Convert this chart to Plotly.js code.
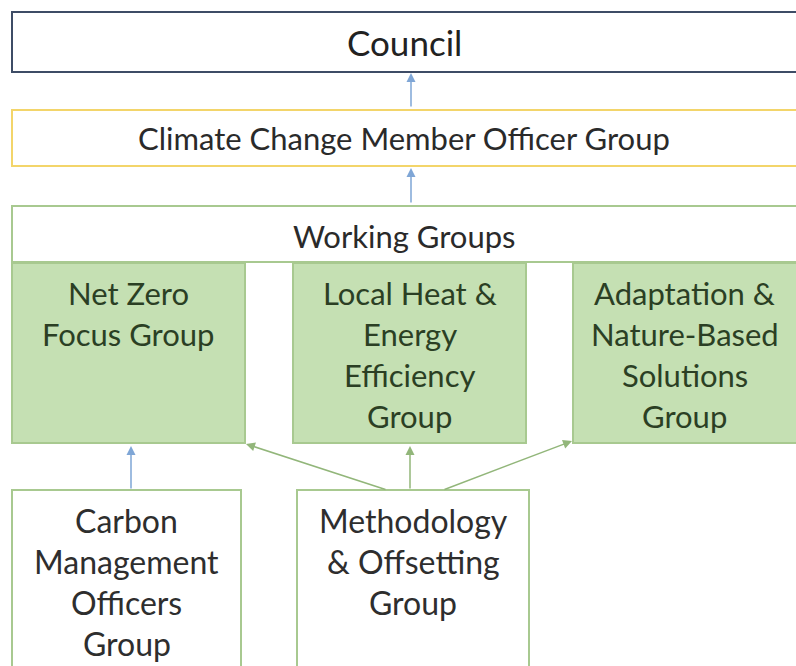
<!DOCTYPE html>
<html>
<head>
<meta charset="utf-8">
<script src="https://cdn.plot.ly/plotly-3.0.1.min.js"></script>
<style>
  html, body { margin: 0; padding: 0; background: #fff; }
  #myChart { width: 796px; height: 666px; }
</style>
</head>
<body>
<div id="myChart"></div>
<script>
// boxes of the org chart, one entry per box
const boxLabels = [
	['Council'],
	['Climate Change Member Officer Group'],
	['Working Groups'],
	['Net Zero', 'Focus Group'],
	['Local Heat &', 'Energy', 'Efficiency', 'Group'],
	['Adaptation &', 'Nature-Based', 'Solutions', 'Group'],
	['Carbon', 'Management', 'Officers', 'Group'],
	['Methodology', '& Offsetting', 'Group']
];
const boxKind = ['council', 'member', 'header', 'wg', 'wg', 'wg', 'sub', 'sub'];
const boxLeft = [12, 12, 12, 12, 293, 573, 12, 297];
const boxRight = [800, 800, 800, 245, 526, 800, 241, 529];
const boxTop = [12, 110, 206, 263, 263, 263, 490, 490];
const boxBottom = [72, 166, 262, 443, 443, 443, 690, 690];
const firstLine = [42, 138, 236, 293, 293, 293, 520, 520];

// arrows: child box -> parent box
const arrowFrom = [[411, 108], [411, 204], [131, 490], [410, 490], [387, 490], [443, 490]];
const arrowTo = [[411, 73], [411, 168], [131, 446], [410, 446], [246, 444], [572, 441]];
const arrowKind = ['blue', 'blue', 'blue', 'green', 'green', 'green'];

const styles = {
	council: { line: '#3E4C66', fill: '#ffffff', text: '#222222', size: 35 },
	member: { line: '#F3D56A', fill: '#ffffff', text: '#2a2a2a', size: 31 },
	header: { line: '#A8C990', fill: '#ffffff', text: '#2a2a2a', size: 31 },
	wg: { line: '#A8C990', fill: '#C5E0B3', text: '#2B3F24', size: 31 },
	sub: { line: '#A8C990', fill: '#ffffff', text: '#2e2e2e', size: 32 }
};
const arrowColors = { blue: '#7FA6D6', green: '#92B67A' };
const lineGap = 41;

const shapes = [];
const annotations = [];

boxLabels.forEach((lines, i) => {
	const st = styles[boxKind[i]];
	shapes.push({
		type: 'rect', xref: 'x', yref: 'y',
		x0: boxLeft[i], x1: boxRight[i], y0: boxTop[i], y1: boxBottom[i],
		line: { color: st.line, width: 2 },
		fillcolor: st.fill, layer: 'below'
	});
	lines.forEach((t, j) => {
		annotations.push({
			x: (boxLeft[i] + Math.min(boxRight[i], 796)) / 2,
			y: firstLine[i] + j * lineGap,
			text: t, showarrow: false,
			xanchor: 'center', yanchor: 'middle',
			font: { family: 'Lato, "Open Sans", sans-serif', size: st.size, color: st.text }
		});
	});
});

arrowFrom.forEach((p, i) => {
	annotations.push({
		x: arrowTo[i][0], y: arrowTo[i][1],
		ax: p[0], ay: p[1],
		xref: 'x', yref: 'y', axref: 'x', ayref: 'y',
		text: '', showarrow: true,
		arrowhead: 2, arrowsize: 1.2, arrowwidth: 1.5,
		arrowcolor: arrowColors[arrowKind[i]]
	});
});

const layout = {
	width: 796, height: 666,
	margin: { l: 0, r: 0, t: 0, b: 0 },
	paper_bgcolor: '#ffffff', plot_bgcolor: '#ffffff',
	showlegend: false,
	xaxis: { range: [0, 796], visible: false, fixedrange: true },
	yaxis: { range: [666, 0], visible: false, fixedrange: true },
	shapes: shapes,
	annotations: annotations
};

Plotly.newPlot('myChart', [], layout, { displayModeBar: false, staticPlot: true });
</script>
</body>
</html>
